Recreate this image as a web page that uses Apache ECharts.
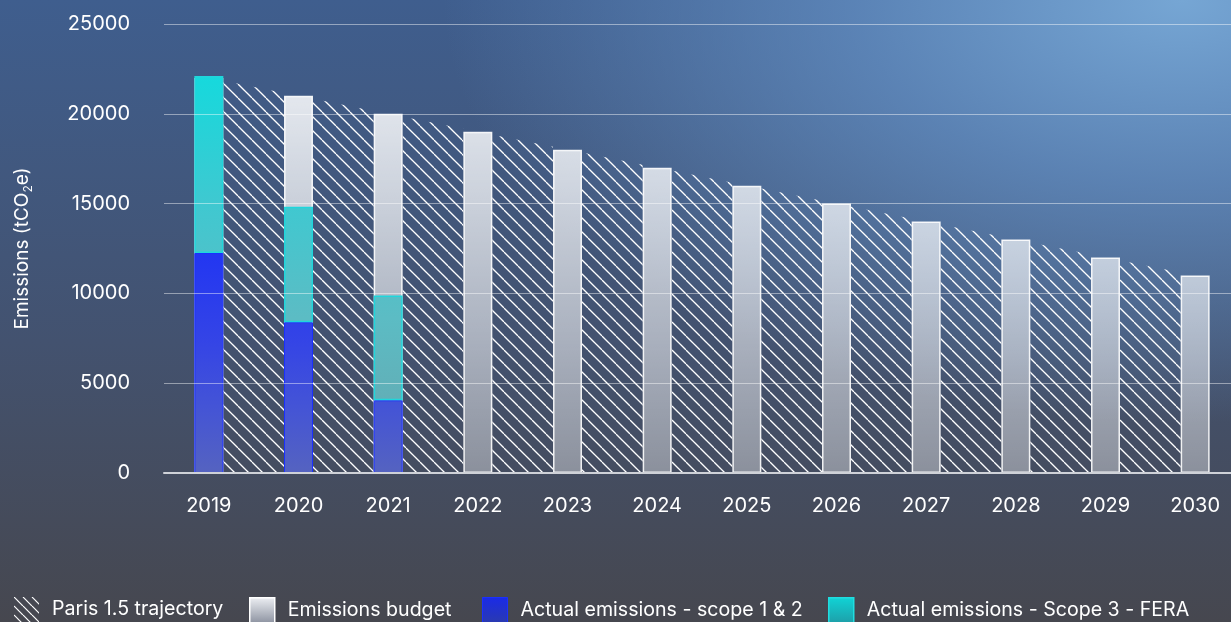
<!DOCTYPE html>
<html>
<head>
<meta charset="utf-8">
<script src="https://cdn.jsdelivr.net/npm/echarts@6/dist/echarts.min.js"></script>
<style>
html,body{margin:0;padding:0;width:1231px;height:622px;overflow:hidden;}
body{
  background:
    radial-gradient(ellipse 75% 85% at 96% 0%, rgba(118,166,212,1) 0%, rgba(100,144,196,0.75) 35%, rgba(80,110,150,0) 80%),
    linear-gradient(to bottom, #3f5e8e 0%, #43526f 55%, #46474f 100%);
}
#chart{width:1231px;height:622px;}
</style>
</head>
<body>
<div id="chart"></div>
<script>
// ---- data ----
const years = ['2019','2020','2021','2022','2023','2024','2025','2026','2027','2028','2029','2030'];
const parisTrajectory = [22000,21000,20000,19000,18000,17000,16000,15000,14000,13000,12000,11000];
const emissionsBudget = [22000,21000,20000,19000,18000,17000,16000,15000,14000,13000,12000,11000];
const actualScope12 = [12250,8400,4050,null,null,null,null,null,null,null,null,null];
const actualScope3  = [9850,6430,5830,null,null,null,null,null,null,null,null,null];
const yTicks = [0,5000,10000,15000,20000,25000];

const BAR_W = 29;

function makeHatch(size, alpha, lw){
  const c = document.createElement('canvas');
  c.width = size; c.height = size;
  const ctx = c.getContext('2d');
  ctx.strokeStyle = 'rgba(255,255,255,' + alpha + ')';
  ctx.lineWidth = lw;
  [-size, 0, size].forEach(o => {
    ctx.beginPath();
    ctx.moveTo(o, 0);
    ctx.lineTo(o + size, size);
    ctx.stroke();
  });
  return {image: c, repeat: 'repeat'};
}
const hatch = makeHatch(14, 1, 1.3);
const hatchIcon = makeHatch(9, 1, 1.2);

const G = echarts.graphic.LinearGradient;
const budgetFill = new G(0, 30, 0, 473, [
  {offset:0, color:'rgba(255,255,255,0.94)'},
  {offset:1, color:'rgba(255,255,255,0.38)'}
], true);
const blueFill = new G(0, 30, 0, 473, [
  {offset:0, color:'#1028ff'},
  {offset:0.5, color:'#2236f2'},
  {offset:0.7, color:'#3444e6'},
  {offset:0.85, color:'#4454d6'},
  {offset:1, color:'#5563c0'}
], true);
const cyanFill = new G(0, 30, 0, 473, [
  {offset:0, color:'#0ae0e2'},
  {offset:0.12, color:'#18d8dc'},
  {offset:0.4, color:'#40c8d0'},
  {offset:0.65, color:'#5cbcc4'},
  {offset:1, color:'#66a4ac'}
], true);

const txt = '#ffffff';
const FONT = 'Inter';

function legendBox(left, name, itemStyle, icon){
  return {
    left: left, top: 592, itemWidth: 25, itemHeight: 25, itemGap: 0,
    selectedMode: false,
    textStyle: {color: txt, fontSize: 19.6, fontFamily: FONT, padding: [0,0,0,8]},
    data: [{name: name, icon: icon || 'rect', itemStyle: itemStyle}]
  };
}

const chart = echarts.init(document.getElementById('chart'), null, {renderer: 'canvas'});
chart.setOption({
  animation: false,
  textStyle: {fontFamily: FONT},
  grid: {left: 164, top: 24, right: -9, bottom: 149, containLabel: false, outerBoundsMode: 'none'},
  legend: [
    legendBox(9, 'Paris 1.5 trajectory', {color: hatchIcon, borderWidth: 0}),
    legendBox(244, 'Emissions budget', {color: new G(0,0,0,1,[{offset:0,color:'#eef0f4'},{offset:1,color:'#8c92a0'}]), borderColor:'#ffffff', borderWidth:1.5}),
    legendBox(477, 'Actual emissions - scope 1 & 2', {color: new G(0,0,0,1,[{offset:0,color:'#1a2ae8'},{offset:1,color:'#2a3ab0'}]), borderColor:'#1a30ff', borderWidth:1}),
    legendBox(823, 'Actual emissions - Scope 3 - FERA', {color: new G(0,0,0,1,[{offset:0,color:'#10d4d6'},{offset:1,color:'#1e9ea8'}]), borderColor:'#20dde0', borderWidth:1.5})
  ],
  xAxis: {
    type: 'category', data: years, z: 10,
    axisLine: {show: true, lineStyle: {color: '#cfd2d8', width: 2}},
    axisTick: {show: false},
    axisLabel: {color: txt, fontSize: 20, margin: 23, fontFamily: FONT}
  },
  yAxis: {
    type: 'value', min: yTicks[0], max: yTicks[yTicks.length-1], interval: yTicks[1]-yTicks[0], z: 10,
    name: 'Emissions (tCO{sub|2}e)', nameLocation: 'middle', nameGap: 130,
    nameTextStyle: {color: txt, fontSize: 19, fontFamily: FONT, rich: {sub: {fontSize: 12, color: txt, fontFamily: FONT, padding: [12,0,0,0]}}},
    axisLine: {show: false}, axisTick: {show: false},
    axisLabel: {color: txt, fontSize: 20, margin: 34, fontFamily: FONT, formatter: v => String(v)},
    splitLine: {show: true, lineStyle: {color: 'rgba(255,255,255,0.45)', width: 1}}
  },
  series: [
    {
      name: 'Paris 1.5 trajectory', type: 'custom', z: 1,
      itemStyle: {color: hatchIcon},
      data: parisTrajectory.map((v, i) => [i, v, i + 1 < parisTrajectory.length ? parisTrajectory[i+1] : null]),
      encode: {x: 0, y: 1},
      renderItem: function(params, api){
        const i = api.value(0);
        const next = api.value(2);
        if (next == null || isNaN(next)) return null;
        const a = api.coord([i, api.value(1)]);
        const b = api.coord([i + 1, next]);
        const base = api.coord([i, 0])[1];
        const half = BAR_W / 2;
        const t = half / (b[0] - a[0]);
        const x0 = a[0] + half, x1 = b[0] - half;
        const y0 = a[1] + (b[1] - a[1]) * t;
        const y1 = a[1] + (b[1] - a[1]) * (1 - t);
        return {type: 'polygon', shape: {points: [[x0, base], [x0, y0], [x1, y1], [x1, base]]}, style: {fill: hatch}};
      }
    },
    {
      name: 'Emissions budget', type: 'bar', barWidth: BAR_W, z: 2,
      itemStyle: {color: budgetFill, borderColor: 'rgba(255,255,255,0.9)', borderWidth: 1.5},
      data: emissionsBudget
    },
    {
      name: 'Actual emissions - scope 1 & 2', type: 'bar', stack: 'actual', barWidth: BAR_W, barGap: '-100%', z: 3,
      itemStyle: {color: blueFill, borderColor: '#1a30ff', borderWidth: 1},
      data: actualScope12
    },
    {
      name: 'Actual emissions - Scope 3 - FERA', type: 'bar', stack: 'actual', barWidth: BAR_W, barGap: '-100%', z: 3,
      itemStyle: {color: cyanFill, borderColor: '#20d6dc', borderWidth: 1.5},
      data: actualScope3
    }
  ]
});
</script>
</body>
</html>
